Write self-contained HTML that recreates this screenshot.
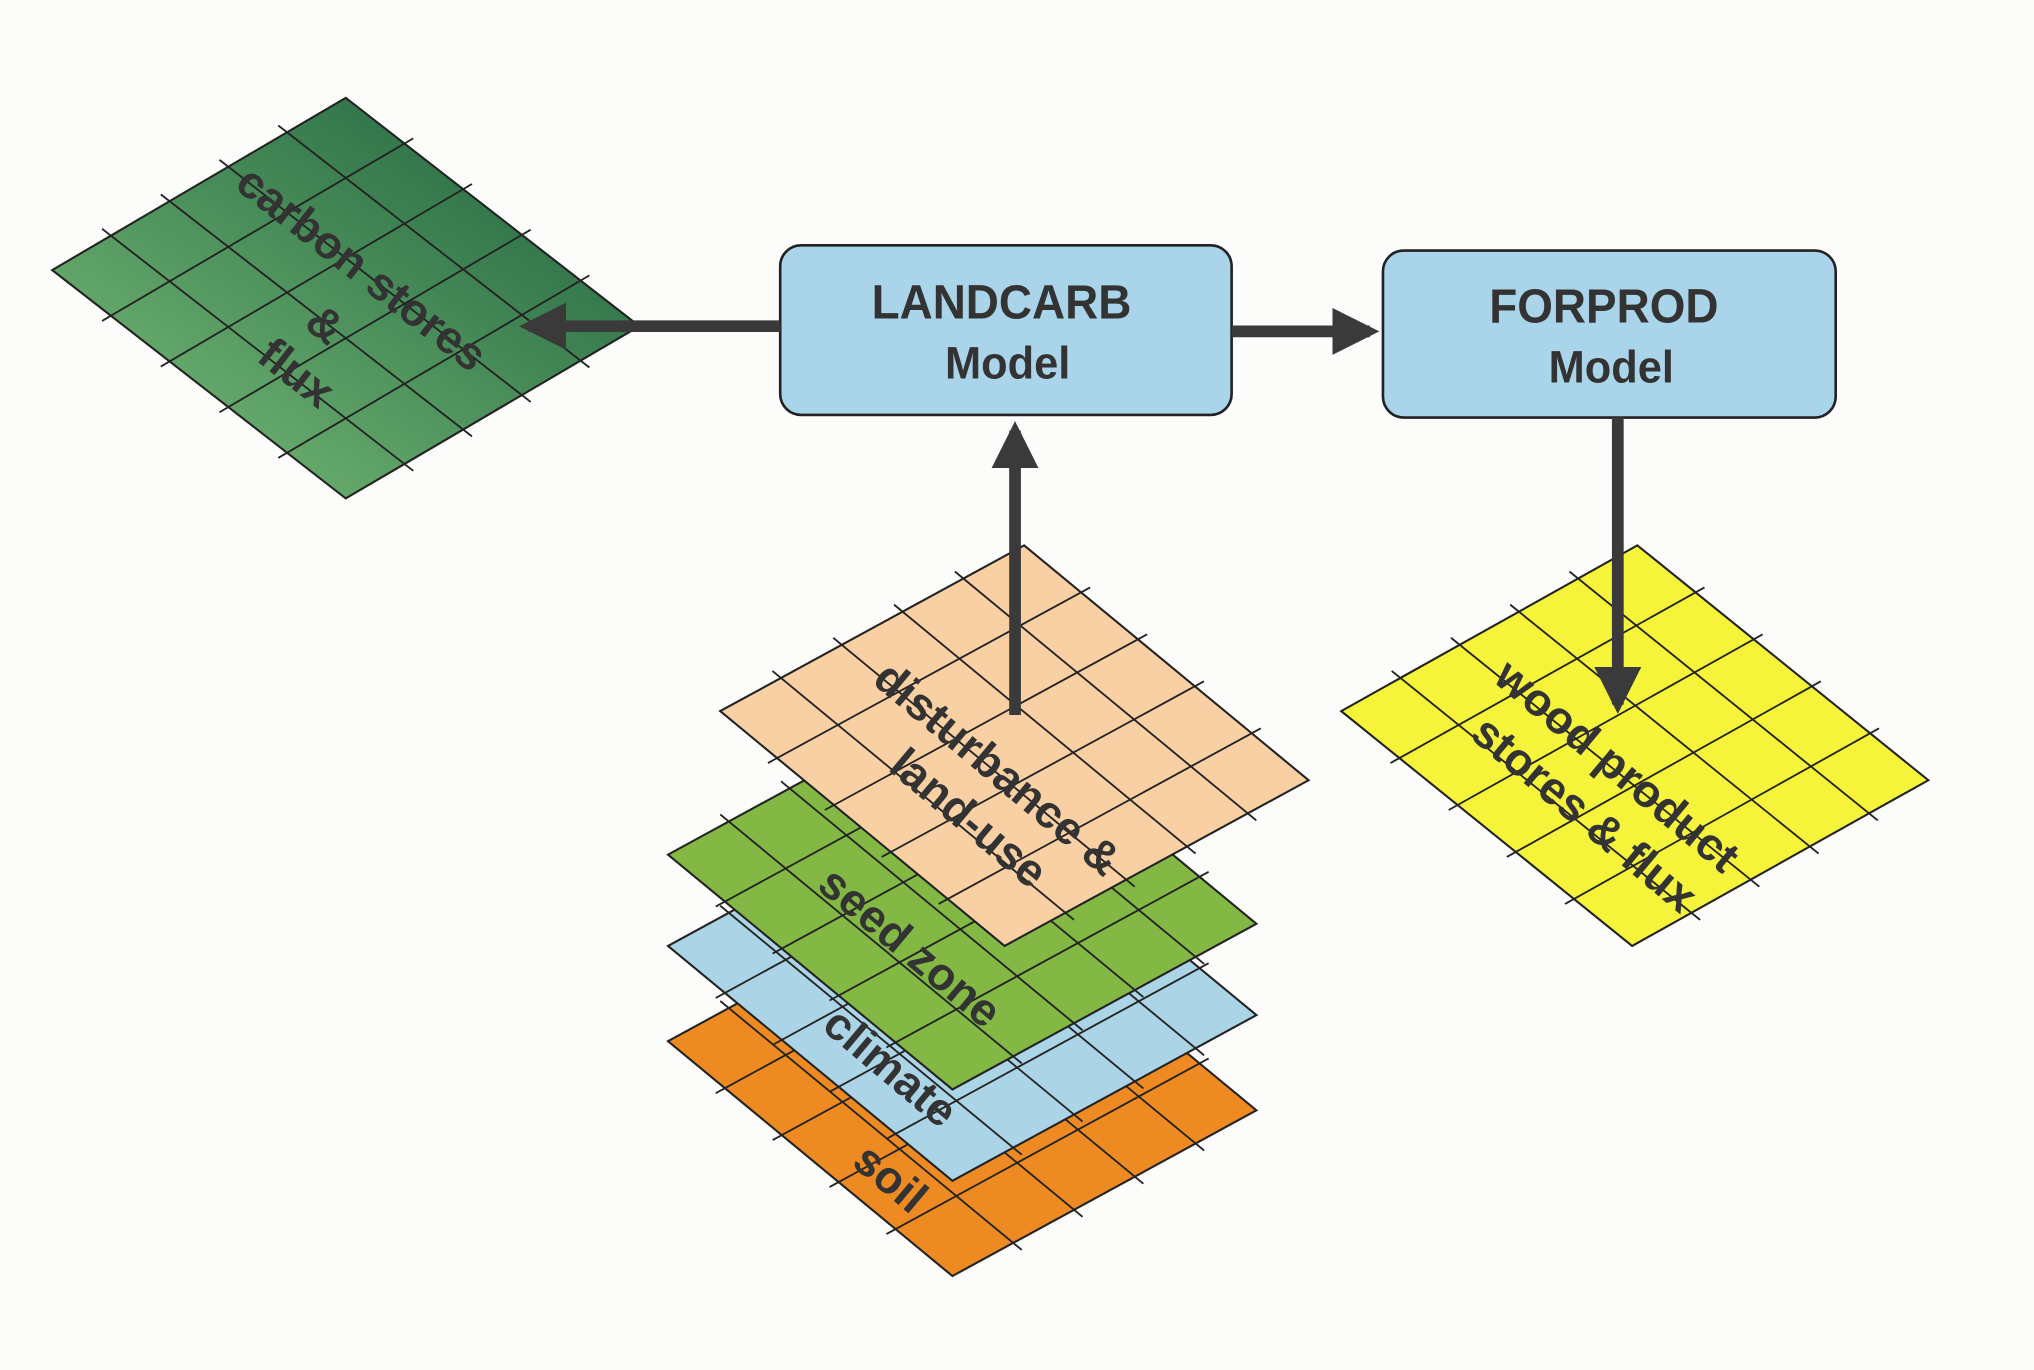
<!DOCTYPE html>
<html><head><meta charset="utf-8"><style>
html,body{margin:0;padding:0;background:#fcfcfa;}
svg{display:block;}
text{font-family:"Liberation Sans",sans-serif;font-weight:bold;fill:#333;}
</style></head><body>
<svg id="s" width="2034" height="1370" viewBox="0 0 1559 1050" preserveAspectRatio="none" xmlns="http://www.w3.org/2000/svg">
<defs>
<linearGradient id="gg" x1="1" y1="0" x2="0" y2="1">
<stop offset="0" stop-color="#1a5e3c"/><stop offset="1" stop-color="#7dc07a"/></linearGradient>
<marker id="ah" viewBox="0 0 10 10" refX="8" refY="5" markerWidth="4" markerHeight="4" orient="auto"><path d="M0,0 L10,5 L0,10 z" fill="#3a3a3a"/></marker>
</defs>
<g id="layers"></g>
<g id="boxes">
<rect x="598" y="188" width="346" height="130" rx="16" fill="#a9d4ea" stroke="#222" stroke-width="2"/>
<text x="768" y="244" text-anchor="middle" font-size="37" transform="scale(0.95 1) translate(40 0)">LANDCARB</text>
<text x="773" y="290" text-anchor="middle" font-size="35" transform="scale(0.95 1) translate(40 0)">Model</text>
<rect x="1060" y="192" width="347" height="128" rx="16" fill="#a9d4ea" stroke="#222" stroke-width="2"/>
<text x="1230" y="247" text-anchor="middle" font-size="37" transform="scale(0.95 1) translate(64 0)">FORPROD</text>
<text x="1236" y="293" text-anchor="middle" font-size="35" transform="scale(0.95 1) translate(64 0)">Model</text>
</g>
<g id="arrows" stroke="#3a3a3a" stroke-width="9" marker-end="url(#ah)">
<line x1="598" y1="250" x2="405" y2="250"/>
<line x1="944" y1="254" x2="1050" y2="254"/>
<line x1="778" y1="548" x2="778" y2="330"/>
<line x1="1240" y1="320" x2="1240" y2="540"/>
</g>
</svg>
<script>
const NS="http://www.w3.org/2000/svg";
const layers=[
 {n:"carbon-stores-layer",l:[40,207],t:[265,75],r:[490,250],f:"url(#gg)"},
 {n:"soil-layer",l:[512,798],t:[745,671],r:[963,851],f:"#ee8a22"},
 {n:"climate-layer",l:[512,725],t:[745,598],r:[963,778],f:"#abd4e6"},
 {n:"seed-zone-layer",l:[512,655],t:[745,528],r:[963,708],f:"#82b843"},
 {n:"disturbance-layer",l:[552,545],t:[785,418],r:[1003,598],f:"#f8d0a4"},
 {n:"wood-product-layer",l:[1028,545],t:[1255,418],r:[1478,598],f:"#f6f43a"}
];
const g=document.getElementById('layers');
layers.forEach(L=>{
 const u=[L.r[0]-L.t[0],L.r[1]-L.t[1]], v=[L.l[0]-L.t[0],L.l[1]-L.t[1]];
 const P=(a,b)=>[L.t[0]+a*u[0]+b*v[0],L.t[1]+a*u[1]+b*v[1]];
 const poly=document.createElementNS(NS,'polygon');
 const pts=[P(0,0),P(1,0),P(1,1),P(0,1)];
 poly.setAttribute('points',pts.map(p=>p.join(',')).join(' '));
 poly.setAttribute('fill',L.f);poly.setAttribute('stroke','#222');poly.setAttribute('stroke-width','1.6');
 
 
 g.appendChild(poly);
 for(let i=1;i<5;i++){
  [[P(i/5,-0.03),P(i/5,1.03)],[P(-0.03,i/5),P(1.03,i/5)]].forEach(s=>{
   const ln=document.createElementNS(NS,'line');
   ln.setAttribute('x1',s[0][0]);ln.setAttribute('y1',s[0][1]);ln.setAttribute('x2',s[1][0]);ln.setAttribute('y2',s[1][1]);
   ln.setAttribute('stroke','#222');ln.setAttribute('stroke-width','1.4');
   
   
   g.appendChild(ln);
  });
 }
});
const labels=[
 ["carbon stores",270,215,38],["&",242,258,38],["flux",220,295,38],
 ["disturbance &",757,598,40],["land-use",735,636,40],
 ["seed zone",690,735,40],["climate",675,827,40],["soil",675,912,40],
 ["wood product",1232,596,40],["stores & flux",1207,633,40]
];
labels.forEach(a=>{
 const t=document.createElementNS(NS,'text');
 t.textContent=a[0];
 t.setAttribute('x',a[1]);t.setAttribute('y',a[2]);
 t.setAttribute('text-anchor','middle');t.setAttribute('font-size','35');
 t.setAttribute('transform','rotate('+a[3]+' '+a[1]+' '+a[2]+')');
 
 
 g.appendChild(t);
});
</script>
</body></html>
